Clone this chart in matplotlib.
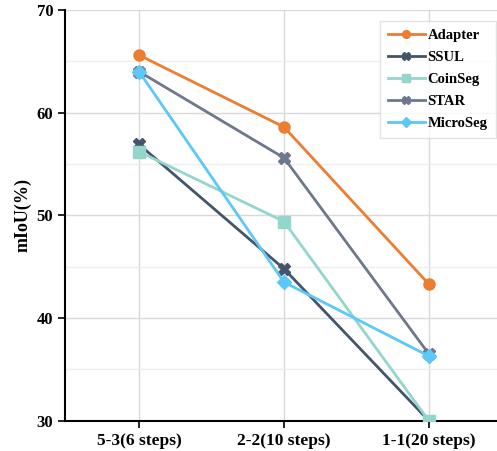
import matplotlib.pyplot as plt
from matplotlib.ticker import MultipleLocator

# data
steps = ["5-3(6 steps)", "2-2(10 steps)", "1-1(20 steps)"]
adapter = [65.6, 58.6, 43.3]
ssul = [56.9, 44.8, 30.0]
coinseg = [56.2, 49.4, 30.0]
star = [64.0, 55.6, 36.5]
microseg = [64.0, 43.5, 36.3]

plt.rcParams['font.family'] = ['Liberation Serif', 'DejaVu Serif']

fig = plt.figure(figsize=(4.97, 4.51), dpi=100)
ax = fig.add_axes([0.131, 0.067, 0.869, 0.911])

x = range(len(steps))
ax.plot(x, adapter, color="#ED7D31", marker="o", ms=8, lw=2, label="Adapter", zorder=5)
ax.plot(x, ssul, color="#44546A", marker="X", ms=9, lw=2, label="SSUL", zorder=3)
ax.plot(x, coinseg, color="#94D6CC", marker="s", ms=8, lw=2, label="CoinSeg", zorder=4)
ax.plot(x, star, color="#6E778C", marker="X", ms=9, lw=2, label="STAR", zorder=3)
ax.plot(x, microseg, color="#5CC8F7", marker="D", ms=7, lw=2, label="MicroSeg", zorder=4)

ax.set_xlim(-0.51, 2.47)
ax.set_ylim(30, 70)
ax.set_xticks(list(x))
ax.set_xticklabels(steps, fontsize=12.5, fontweight="bold")
ax.yaxis.set_major_locator(MultipleLocator(10))
ax.yaxis.set_minor_locator(MultipleLocator(5))
for lab in ax.get_yticklabels():
    lab.set_fontweight("bold")
    lab.set_fontsize(12)
ax.tick_params(axis="y", which="minor", length=0)
ax.tick_params(axis="both", which="major", length=5, width=1.2)
ax.set_ylabel("mIoU(%)", fontsize=13, fontweight="bold")

ax.grid(True, which="major", color="#d9d9d9", lw=1)
ax.grid(True, which="minor", axis="y", color="#eeeeee", lw=1)
ax.set_axisbelow(True)
for s in ["top", "right"]:
    ax.spines[s].set_visible(False)
for s in ["left", "bottom"]:
    ax.spines[s].set_linewidth(1.5)

leg = ax.legend(loc="upper right", bbox_to_anchor=(1.0, 0.976), borderaxespad=0.1,
                prop={"weight": "bold", "size": 10.5},
                fancybox=False, edgecolor="#dddddd", handlelength=2.5, handletextpad=0.2,
                labelspacing=0.6, borderpad=0.55, markerscale=0.7)

fig.savefig("out.png", dpi=100)
